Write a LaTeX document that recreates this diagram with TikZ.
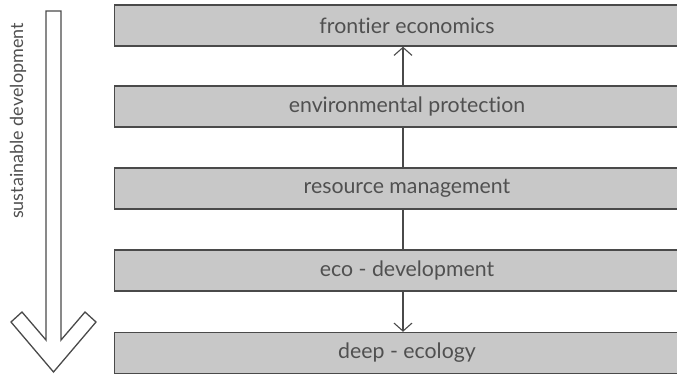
\documentclass[tikz,border=0pt]{standalone}
\usepackage{fontspec}
\setmainfont[Ligatures={NoCommon}]{Lato}
\usetikzlibrary{arrows.meta}
\definecolor{boxfill}{HTML}{C8C8C8}
\definecolor{edge}{HTML}{4A4A4A}
\definecolor{ink}{HTML}{505050}
\begin{document}
\begin{tikzpicture}[x=1pt,y=-1pt,
  box/.style={draw=edge, line width=1.4pt, fill=boxfill, minimum height=41pt, minimum width=566pt, inner sep=0pt, anchor=west},
  txt/.style={text=ink, font=\fontsize{21.3}{24}\selectfont, inner sep=0pt},
  side/.style={text=ink, font=\fontsize{18}{21}\selectfont, inner sep=0pt, rotate=90},
  conn/.style={draw=edge, line width=1.1pt},
  tip/.style={-{Straight Barb[length=8pt,width=18pt,line width=1.1pt]}}
]
\useasboundingbox (0,0) rectangle (677,375);
% boxes
\node[box] (b1) at (114,25.5) {};
\node[box] (b2) at (114,106.5) {};
\node[box] (b3) at (114,188.5) {};
\node[box] (b4) at (114,270.5) {};
\node[box] (b5) at (114,353) {};
% labels
\node[txt] (t1) at (407,25.5) {frontier economics};
\node[txt] (t2) at (407,106.5) {environmental protection};
\node[txt] (t3) at (407,188.5) {resource management};
\node[txt] (t4) at (407,270.5) {eco - development};
\node[txt] (t5) at (407,353) {deep - ecology};
% connector axis
\coordinate (cx) at (403,0);
\draw[conn,tip] (b2.north -| cx) -- (b1.south -| cx);
\draw[conn] (b3.north -| cx) -- (b2.south -| cx);
\draw[conn] (b4.north -| cx) -- (b3.south -| cx);
\draw[conn,tip] (b4.south -| cx) -- (b5.north -| cx);
% big arrow
\draw[draw=edge, line width=1.3pt, fill=white, line join=miter]
  (46,11) -- (61,11) -- (61,340) -- (85,312) -- (96,322) -- (53.5,372)
  -- (11,322) -- (22,312) -- (46,340) -- cycle;
\node[side] (sd) at (18,121) {sustainable development};
\end{tikzpicture}
\end{document}
